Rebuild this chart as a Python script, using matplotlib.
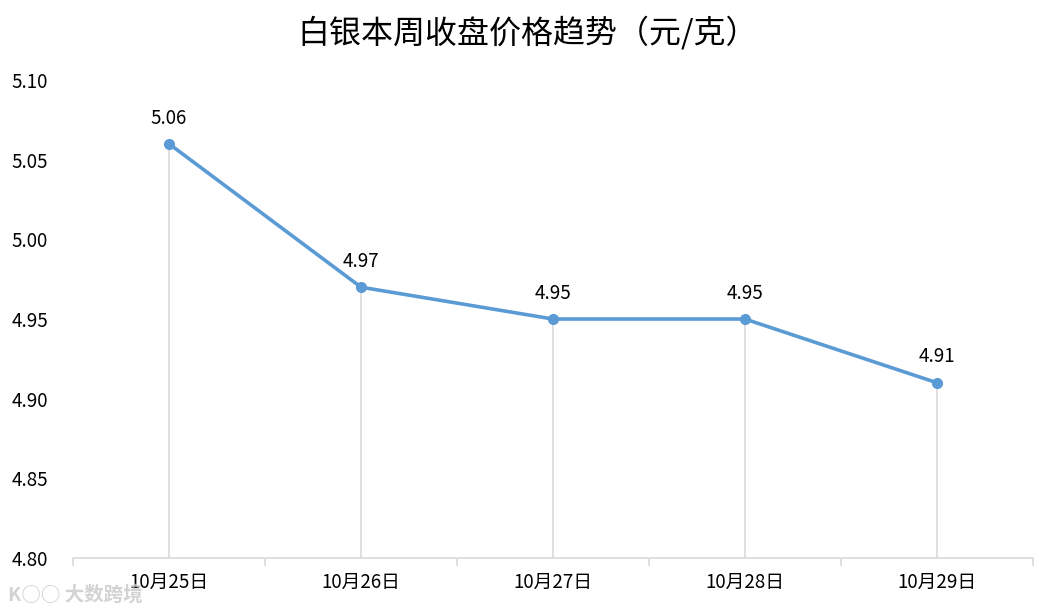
import numpy as np
import matplotlib
matplotlib.use("Agg")
import matplotlib.pyplot as plt
from matplotlib.ticker import FixedLocator

plt.rcParams["font.family"] = ["Noto Sans CJK SC", "DejaVu Sans"]

dates = ["10月25日", "10月26日", "10月27日", "10月28日", "10月29日"]
prices = [5.06, 4.97, 4.95, 4.95, 4.91]
yticks = [4.80, 4.85, 4.90, 4.95, 5.00, 5.05, 5.10]

line_color = "#5B9BD5"
axis_color = "#D9D9D9"

fig = plt.figure(figsize=(10.56, 6.12), dpi=100)
ax = fig.add_axes([0.0691, 0.0882, 0.9091, 0.7810])

x = np.arange(len(dates))
ymin, ymax = yticks[0], yticks[-1]

# drop lines from each point to the axis
ax.vlines(x, ymin, prices, color=axis_color, linewidth=1.2, zorder=1)
ax.plot(x, prices, color=line_color, linewidth=2.6, marker="o", markersize=7, zorder=3)

for xi, p in zip(x, prices):
    ax.annotate(f"{p:.2f}", (xi, p), xytext=(0, 11), textcoords="offset points",
                ha="center", va="bottom", fontsize=13.5, color="#000000")

ax.set_xlim(-0.5, len(dates) - 0.5)
ax.set_ylim(ymin, ymax)
ax.set_yticks(yticks)
ax.set_yticklabels([f"{v:.2f}" for v in yticks], fontsize=13.5)
ax.set_xticks(x)
ax.set_xticklabels(dates, fontsize=13.5)
ax.xaxis.set_minor_locator(FixedLocator(np.arange(-0.5, len(dates), 1.0)))

ax.tick_params(axis="y", length=0, pad=18)
ax.tick_params(axis="x", which="major", length=0, pad=10)
ax.tick_params(axis="x", which="minor", length=6, width=1.2, color=axis_color)

for side in ["top", "right", "left"]:
    ax.spines[side].set_visible(False)
ax.spines["bottom"].set_color(axis_color)
ax.spines["bottom"].set_linewidth(1.2)

fig.suptitle("白银本周收盘价格趋势（元/克）", fontsize=23, y=0.975)

# faint watermark in the bottom-left corner
fig.text(0.008, 0.012, "K○○ 大数跨境", fontsize=14, color="#C8C8C8", alpha=0.8,
         ha="left", va="bottom", fontweight="bold")

fig.savefig("out.png", dpi=100)
